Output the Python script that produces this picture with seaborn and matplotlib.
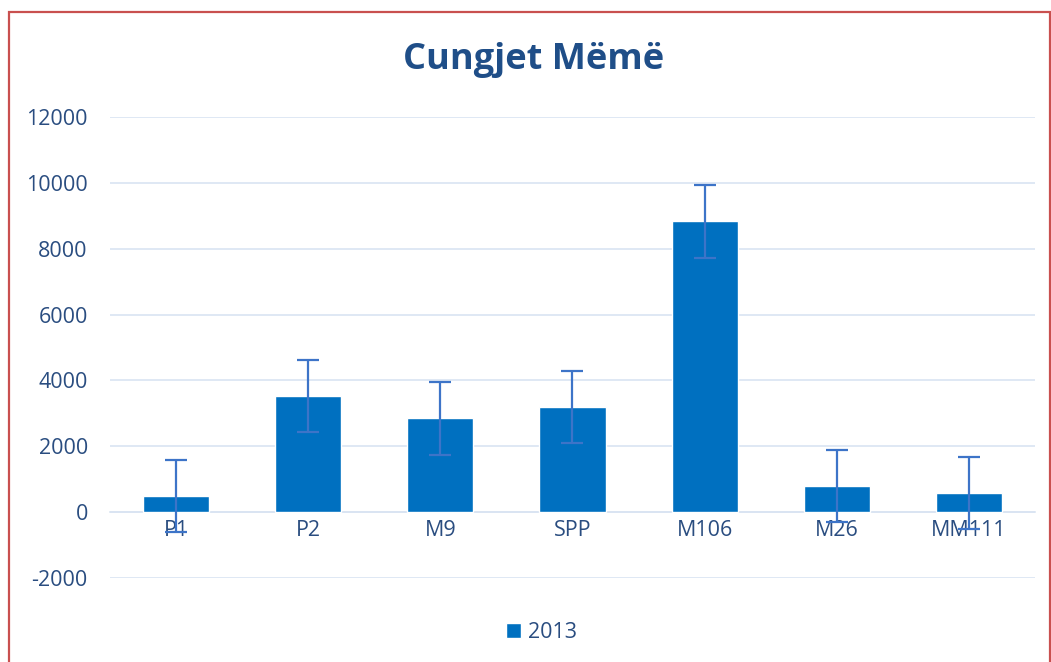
import numpy as np
import pandas as pd
import matplotlib
matplotlib.use("Agg")
import matplotlib.pyplot as plt
from matplotlib.patches import Rectangle
import seaborn as sns

# ----------------------------
# Data
# ----------------------------

rootstocks = ["P1", "P2", "M9", "SPP", "M106", "M26", "MM111"]
values_2013 = [490, 3520, 2850, 3200, 8830, 800, 580]
errors_2013 = [1100, 1100, 1100, 1100, 1100, 1100, 1100]
yticks = [-2000, 0, 2000, 4000, 6000, 8000, 10000, 12000]

df = pd.DataFrame({"rootstock": rootstocks, "value": values_2013, "err": errors_2013})

# ----------------------------
# Style
# ----------------------------

sns.set_style("white")
plt.rcParams["font.family"] = ["Open Sans", "DejaVu Sans"]
plt.rcParams["axes.unicode_minus"] = False

bar_color = "#0070c0"
err_color = "#3d74c8"
text_color = "#2a4d80"
grid_color = "#d9e4f2"

fig = plt.figure(figsize=(10.51, 6.62), dpi=100)
ax = fig.add_axes([0.1047, 0.1269, 0.880, 0.6964])

sns.barplot(data=df, x="rootstock", y="value", color=bar_color, width=0.5,
            errorbar=None, saturation=1, label="2013", ax=ax, zorder=3)

ax.errorbar(x=np.arange(len(rootstocks)), y=df["value"], yerr=df["err"],
            fmt="none", ecolor=err_color, elinewidth=1.6, capsize=8,
            capthick=1.6, zorder=4)

ax.set_ylim(-2000, 12000)
ax.set_yticks(yticks)
ax.set_xlim(-0.5, len(rootstocks) - 0.5)
ax.yaxis.grid(True, color=grid_color, linewidth=1.2, zorder=0)
ax.set_axisbelow(True)

for side in ["top", "right", "left"]:
    ax.spines[side].set_visible(False)
ax.spines["bottom"].set_position(("data", 0))
ax.spines["bottom"].set_color(grid_color)
ax.spines["bottom"].set_linewidth(1.2)

ax.tick_params(axis="y", length=0, pad=16, labelsize=15.5, labelcolor=text_color)
ax.tick_params(axis="x", length=0, pad=6, labelsize=15.5, labelcolor=text_color)
ax.set_xlabel("")
ax.set_ylabel("")

fig.text(0.508, 0.909, "Cungjet Mëmë", ha="center", va="center", fontsize=26,
         fontweight="bold", color="#1f4e88")

if ax.get_legend() is not None:
    ax.get_legend().remove()
handles, labels = ax.get_legend_handles_labels()
fig.legend(handles[:1], labels[:1], loc="center", bbox_to_anchor=(0.515, 0.044),
           frameon=False, handlelength=0.7, handleheight=0.7, handletextpad=0.3,
           fontsize=15.5, labelcolor=text_color)

# red chart border
fig.patches.append(Rectangle((9 / 1051, -0.05), 1041 / 1051, 1.05 - 12 / 662,
                             transform=fig.transFigure, fill=False,
                             edgecolor="#c9504f", linewidth=1.6))

plt.savefig("out.png", dpi=100)
